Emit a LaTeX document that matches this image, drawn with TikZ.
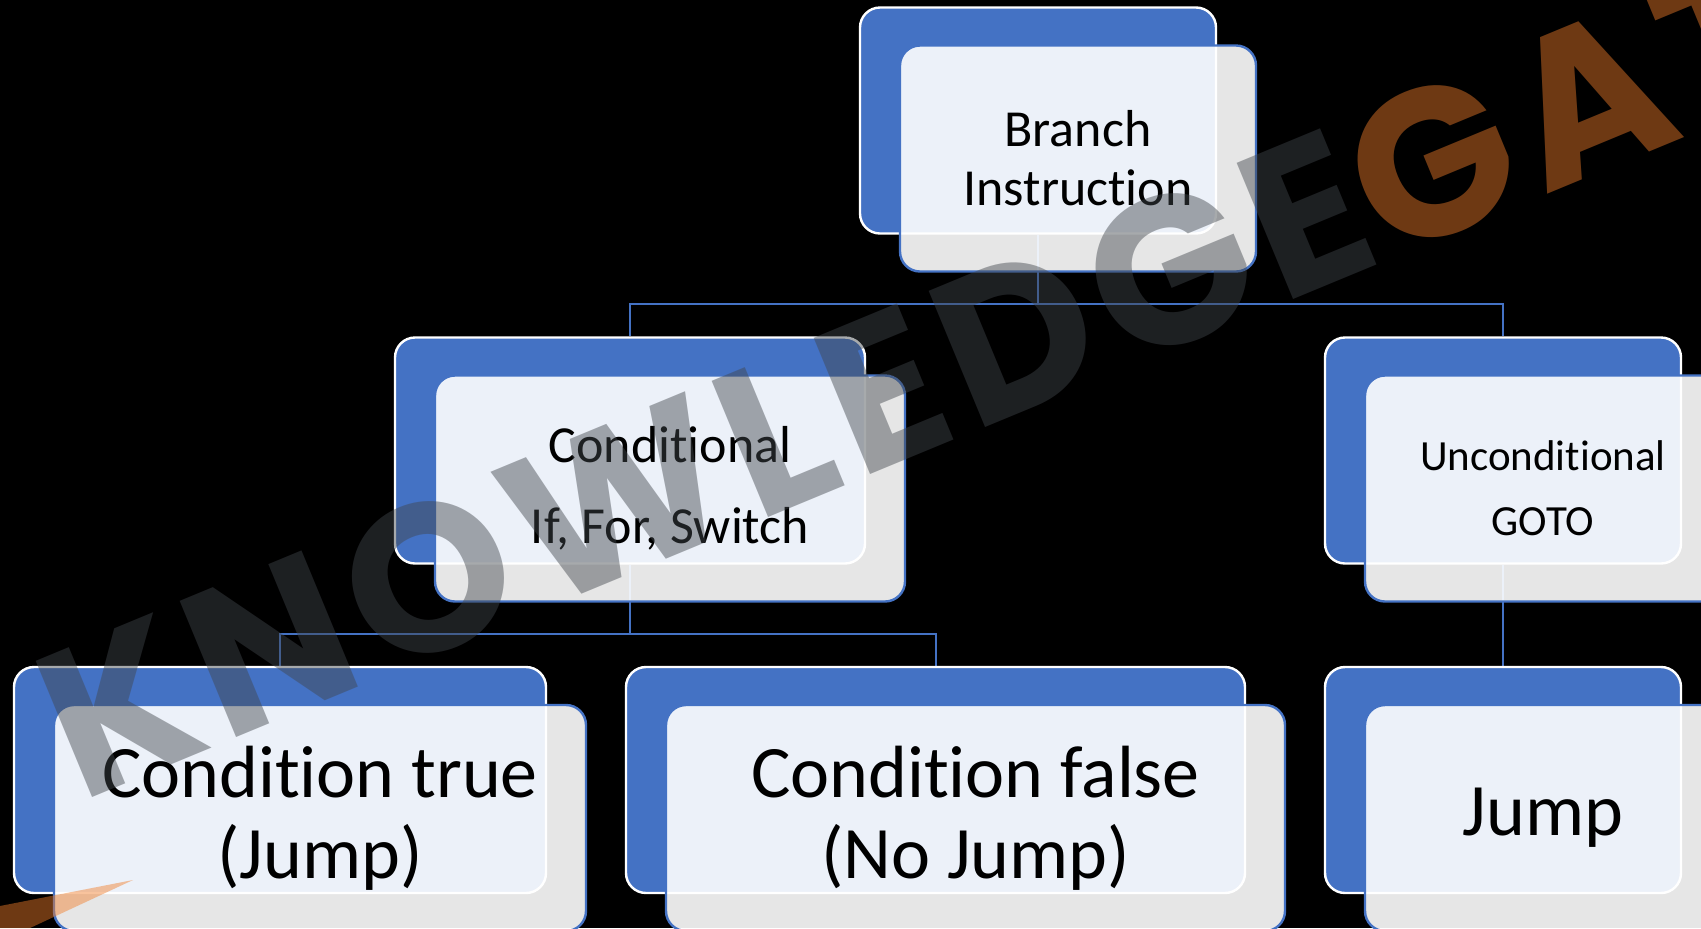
\documentclass[tikz,border=0pt]{standalone}
\usepackage{fontspec}
\setmainfont{Carlito}[Ligatures=CommonOff]
\newfontfamily\wmfont[LetterSpace=5]{Poppins}
\usetikzlibrary{positioning, backgrounds}
\definecolor{sBlue}{HTML}{4472C4}
\definecolor{wmGray}{HTML}{41464C}
\definecolor{wmOrange}{HTML}{F17E2B}

\begin{document}
\begin{tikzpicture}[x=0.5pt, y=-0.5pt,
    backbox/.style={draw=white, line width=1.2pt, fill=sBlue, rounded corners=10pt,
      minimum height=113pt, inner sep=0pt},
    frontbox/.style={draw=sBlue, line width=1.2pt, fill=white, fill opacity=0.9,
      text opacity=1, rounded corners=10pt, minimum height=113pt, inner sep=0pt,
      align=center},
    conn/.style={draw=sBlue, line width=1pt}]
  \useasboundingbox (0,0) rectangle (1701,928);
  \begin{scope}[on background layer]
    \fill[black] (0,0) rectangle (1701,928);
  \end{scope}

  % hierarchy boxes: name / centre / width / font size / line skip / text
  \foreach \nm/\cx/\cy/\w/\fs/\ls/\txt in
    {branch/1038/120.5/356/26/29.5/{Branch\\Instruction},
     cond/630/450.5/470/26/40.5/{Conditional\\If, For, Switch},
     uncond/1503/450.5/356/21.5/32.5/{Unconditional\\GOTO},
     ctrue/280/780/532/37/40.5/{Condition true\\(Jump)},
     cfalse/935.5/780/619/37/40.5/{Condition false\\(No Jump)},
     jump/1503/780/356/37/44/{Jump}} {
    \node[backbox, minimum width=\w*0.5pt] (\nm-back) at (\cx,\cy) {};
    \node[frontbox, minimum width=\w*0.5pt, font=\fontsize{\fs}{\ls}\selectfont]
      (\nm) at ([shift={(40,38)}]\nm-back.center) {\txt};
  }

  \coordinate (topbus) at (1038,304);
  \coordinate (condbus) at (630,634);
  \begin{scope}[on background layer]
    \draw[conn] (branch-back.south) -- (topbus) -| (cond-back.north);
    \draw[conn] (topbus) -| (uncond-back.north);
    \draw[conn] (cond-back.south) -- (condbus) -| (ctrue-back.north);
    \draw[conn] (condbus) -| (cfalse-back.north);
    \draw[conn] (uncond-back.south) -- (jump-back.north);
  \end{scope}

  % watermark
  \node[rotate=22.5, text opacity=0.46, inner sep=0pt, text height=73.5pt, text depth=0pt,
    font=\wmfont\bfseries\fontsize{105}{105}\selectfont] (wmark) at (975,352)
    {\textcolor{wmGray}{KNOWLEDGE}\textcolor{wmOrange}{GATE}};
  \fill[wmOrange, opacity=0.46] (0,906) -- (133,880) -- (30,928) -- (0,928) -- cycle;
\end{tikzpicture}
\end{document}
